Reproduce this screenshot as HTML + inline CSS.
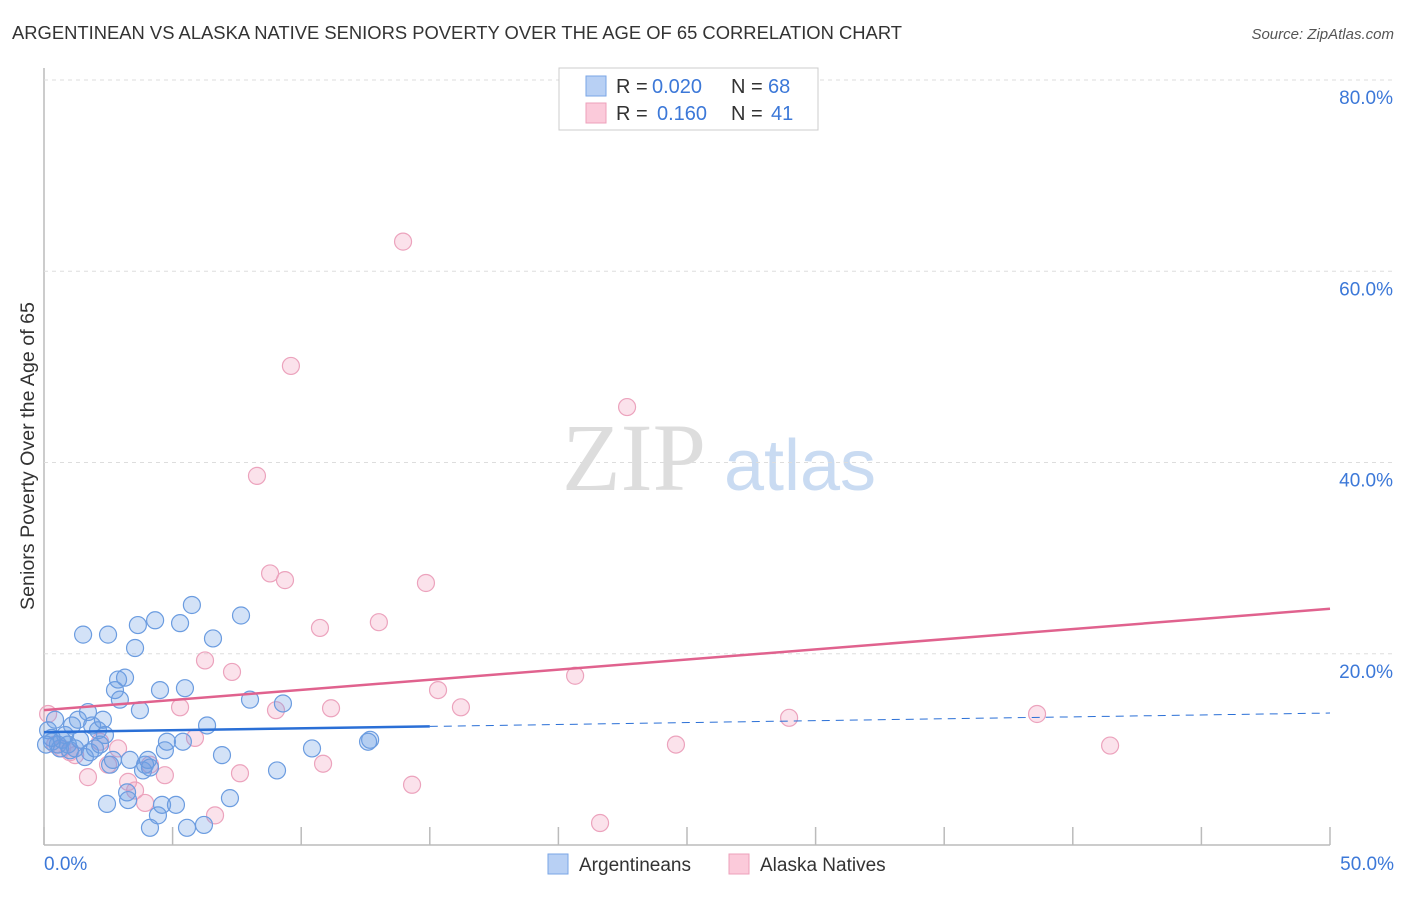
<!DOCTYPE html>
<html><head><meta charset="utf-8"><style>
body{margin:0;background:#fff;font-family:"Liberation Sans",sans-serif}
</style></head><body>
<svg width="1406" height="892" xmlns="http://www.w3.org/2000/svg" id="svg">
<text x="12" y="39" font-size="18" fill="#333" textLength="890" lengthAdjust="spacingAndGlyphs">ARGENTINEAN VS ALASKA NATIVE SENIORS POVERTY OVER THE AGE OF 65 CORRELATION CHART</text>
<text x="1394" y="39" font-size="15" fill="#555" text-anchor="end" font-style="italic">Source: ZipAtlas.com</text>
<text x="634" y="490" font-size="96" fill="#ddd" text-anchor="middle" font-family="Liberation Serif">ZIP</text>
<text x="800" y="490" font-size="72" fill="#c9dbf2" text-anchor="middle">atlas</text>
<text transform="translate(34,456) rotate(-90)" font-size="19" fill="#333" text-anchor="middle" textLength="308" lengthAdjust="spacingAndGlyphs">Seniors Poverty Over the Age of 65</text>
<g id="grid"></g><g id="pts"></g><g id="lines"></g>
<g>
<rect x="559" y="68" width="259" height="62" fill="#fff" stroke="#ccc"/>
<rect x="586" y="76" width="20" height="20" fill="#b8d0f4" stroke="#7aa6e6"/>
<rect x="586" y="103" width="20" height="20" fill="#fbcada" stroke="#eea0bb"/>
<text x="616" y="93" font-size="20" fill="#333">R =</text>
<text x="652" y="93" font-size="20" fill="#3c78d8">0.020</text>
<text x="731" y="93" font-size="20" fill="#333">N =</text>
<text x="768" y="93" font-size="20" fill="#3c78d8">68</text>
<text x="616" y="120" font-size="20" fill="#333">R =</text>
<text x="657" y="120" font-size="20" fill="#3c78d8">0.160</text>
<text x="731" y="120" font-size="20" fill="#333">N =</text>
<text x="771" y="120" font-size="20" fill="#3c78d8">41</text>
</g>
<g>
<rect x="548" y="854" width="20" height="20" fill="#b8d0f4" stroke="#7aa6e6"/>
<text x="579" y="871" font-size="19" fill="#333">Argentineans</text>
<rect x="729" y="854" width="20" height="20" fill="#fbcada" stroke="#eea0bb"/>
<text x="760" y="871" font-size="19" fill="#333">Alaska Natives</text>
</g>
</svg>
<script>
const yTicks=[20,40,60,80];
const xTickLabels=["0.0%","50.0%"];
const blueX=[0.16,0.31,0.43,0.54,0.62,0.70,0.82,0.93,1.01,1.09,1.21,1.32,1.40,1.52,1.59,1.71,1.79,1.87,1.98,2.10,2.18,2.29,2.37,2.49,2.57,2.68,2.76,2.88,2.95,3.15,3.34,3.54,3.65,3.73,3.85,3.93,4.04,4.12,4.32,4.43,4.51,4.59,4.70,4.78,5.13,5.29,5.40,5.48,5.56,5.75,6.22,6.34,6.57,6.92,7.23,7.66,8.01,9.06,9.29,10.42,12.68,2.45,3.27,4.12,3.23,0.08,12.6,0.3];
const blueY=[12.0,10.8,13.1,10.5,10.1,11.0,11.5,10.5,9.9,12.5,10.1,13.1,11.0,22.0,9.2,13.9,9.7,12.5,10.1,12.0,10.5,13.1,11.5,22.0,8.4,8.9,16.2,17.3,15.2,17.5,8.9,20.6,23.0,14.1,7.8,8.4,8.9,8.1,23.5,3.1,16.2,4.2,9.9,10.8,4.2,23.2,10.8,16.4,1.8,25.1,2.1,12.5,21.6,9.4,4.9,24.0,15.2,7.8,14.8,10.1,11.0,4.3,4.7,1.8,5.5,10.5,10.8,11.2];
const pinkX=[0.16,0.43,0.70,1.01,1.21,1.71,2.18,2.49,2.88,3.27,3.54,3.93,4.12,4.70,5.29,5.87,6.26,6.65,7.31,7.62,8.28,8.79,9.02,9.37,9.60,10.73,10.85,11.16,13.02,13.96,14.31,14.85,15.32,16.21,20.65,21.62,22.67,24.57,28.97,38.61,41.45];
const pinkY=[13.7,10.5,10.1,9.7,9.4,7.1,10.8,8.4,10.1,6.6,5.7,4.4,8.4,7.3,14.4,11.2,19.3,3.1,18.1,7.5,38.6,28.4,14.1,27.7,50.1,22.7,8.5,14.3,23.3,63.1,6.3,27.4,16.2,14.4,17.7,2.3,45.8,10.5,13.3,13.7,10.4];
const blueTrend=[11.8,13.8];
const pinkTrend=[14.1,24.7];
const X0=44,X1=1330,Y0=845,Y80=80;
const sx=v=>X0+(X1-X0)*v/50;
const sy=v=>Y0-(Y0-Y80)*v/80;
const NS="http://www.w3.org/2000/svg";
function mk(t,a,p){const e=document.createElementNS(NS,t);for(const k in a)e.setAttribute(k,a[k]);p.appendChild(e);return e;}
const grid=document.getElementById('grid');
mk('line',{x1:X0,y1:Y0,x2:X1,y2:Y0,stroke:'#bbb','stroke-width':1.5},grid);
mk('line',{x1:X0,y1:68,x2:X0,y2:Y0,stroke:'#bbb','stroke-width':1.5},grid);
yTicks.forEach(v=>{
 const l=mk('line',{x1:X0,y1:sy(v),x2:1394,y2:sy(v),stroke:'#ddd','stroke-dasharray':'4,4'},grid);
 
 
 const t=mk('text',{x:1393,y:sy(v)+24,'font-size':19,fill:'#3c78d8','text-anchor':'end'},grid);
 t.textContent=v.toFixed(1)+'%';
 
 
});
for(let i=0;i<=10;i++){
 const l=mk('line',{x1:sx(i*5),y1:827,x2:sx(i*5),y2:Y0,stroke:'#bbb','stroke-width':1.5},grid);
 
 
}
[[0,'start',44],[50,'end',1394]].forEach((d,i)=>{
 const t=mk('text',{x:d[2],y:870,'font-size':19,fill:'#3c78d8','text-anchor':d[1]},grid);
 t.textContent=xTickLabels[i];
 
 
});
const pts=document.getElementById('pts');
pinkX.forEach((x,i)=>{
 const c=mk('circle',{cx:sx(x),cy:sy(pinkY[i]),r:8.5,fill:'rgba(243,160,190,0.3)',stroke:'#eca3bd','stroke-width':1.2},pts);
 
 
});
blueX.forEach((x,i)=>{
 const c=mk('circle',{cx:sx(x),cy:sy(blueY[i]),r:8.5,fill:'rgba(110,160,230,0.3)',stroke:'#6b9ce0','stroke-width':1.2},pts);
 
 
});
const lines=document.getElementById('lines');
const bAt=x=>blueTrend[0]+(blueTrend[1]-blueTrend[0])*x/50;
let l=mk('line',{x1:sx(0),y1:sy(bAt(0)),x2:sx(15),y2:sy(bAt(15)),stroke:'#2a6fd6','stroke-width':2.5},lines);


l=mk('line',{x1:sx(15),y1:sy(bAt(15)),x2:sx(50),y2:sy(bAt(50)),stroke:'#2a6fd6','stroke-width':1,'stroke-dasharray':'8,6'},lines);


l=mk('line',{x1:sx(0),y1:sy(pinkTrend[0]),x2:sx(50),y2:sy(pinkTrend[1]),stroke:'#e0628e','stroke-width':2.5},lines);


</script>
</body></html>
